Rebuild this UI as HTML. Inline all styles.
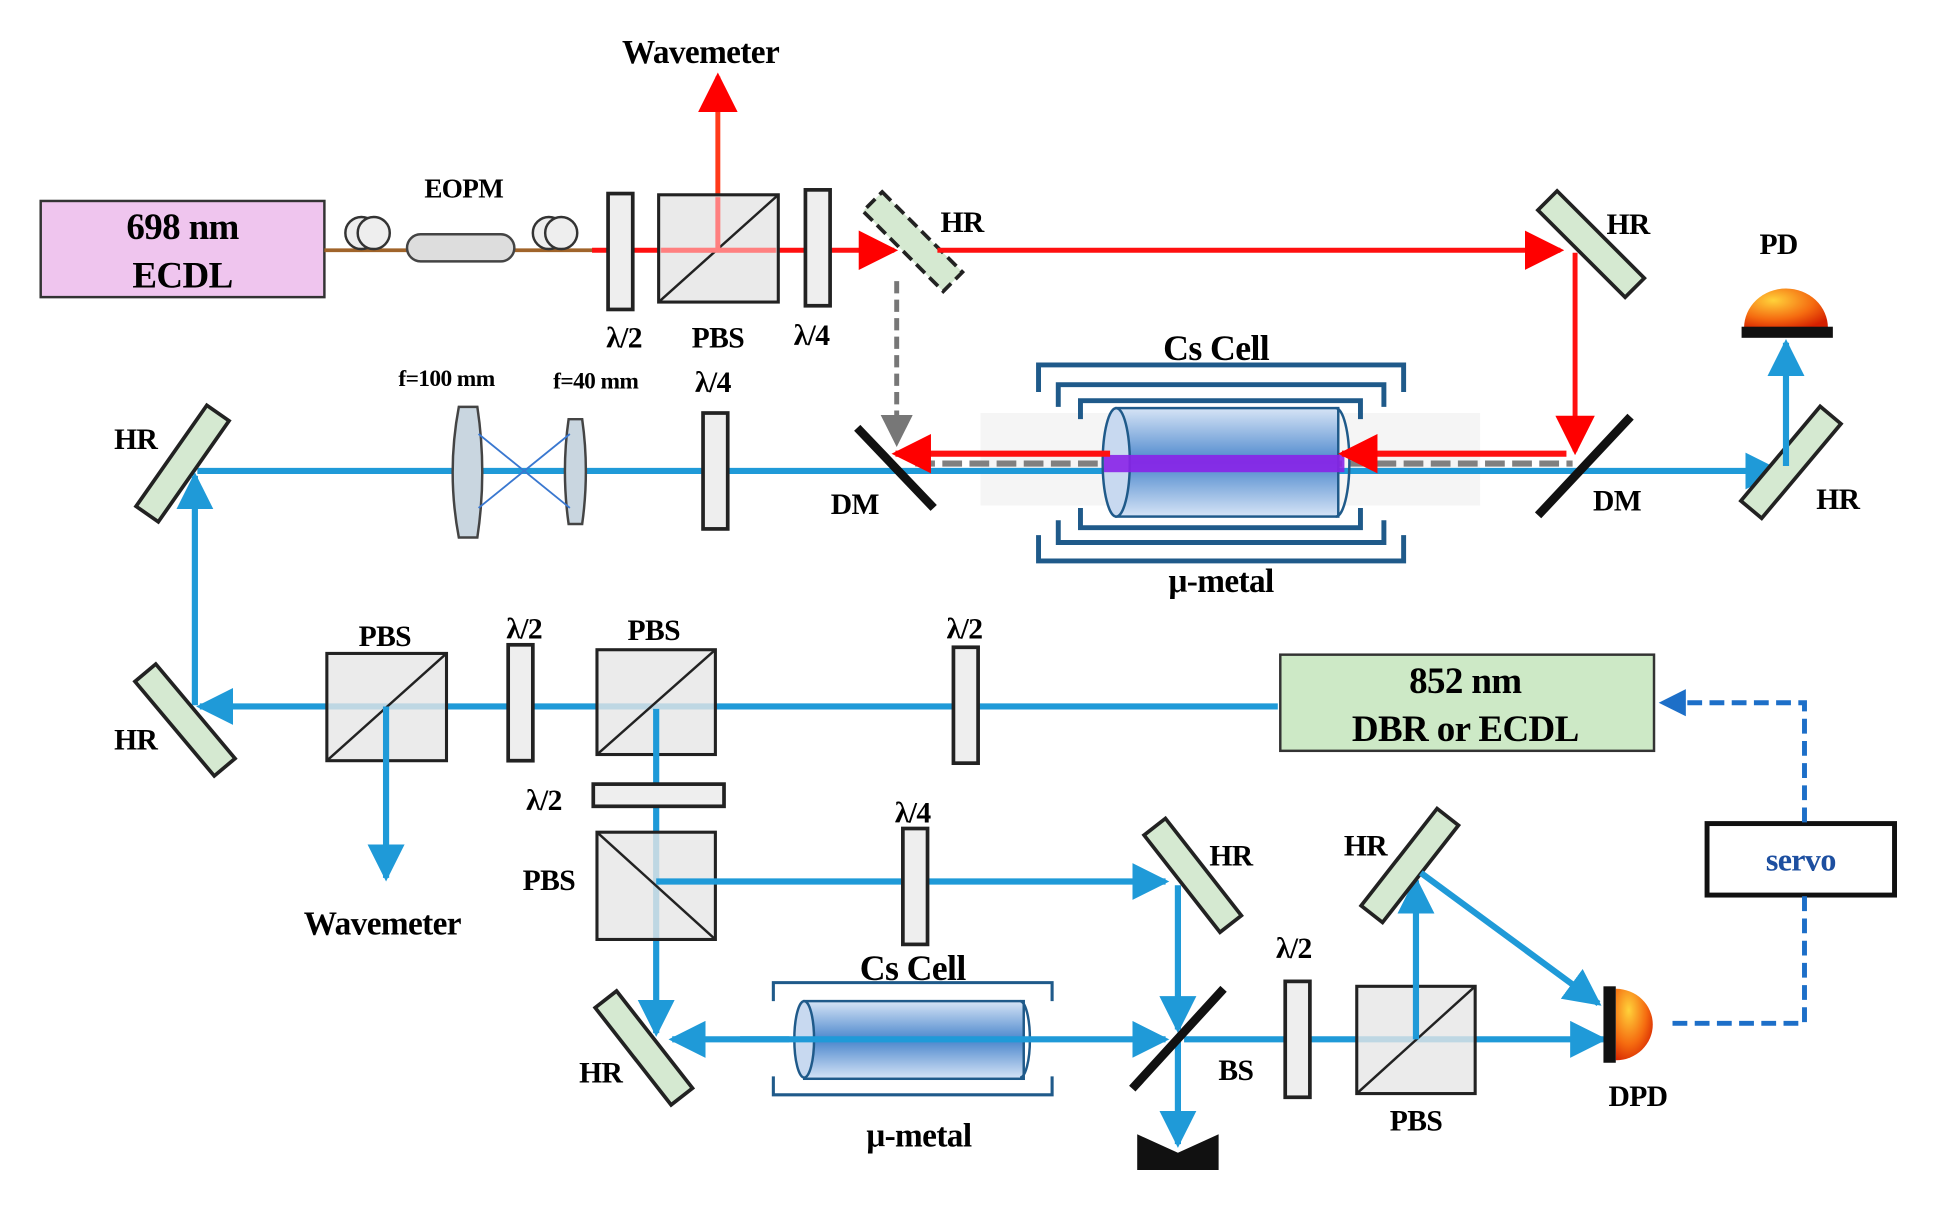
<!DOCTYPE html>
<html><head><meta charset="utf-8"><style>
html,body{margin:0;padding:0;background:#fff;}
svg{display:block;}
text{font-family:"Liberation Serif",serif;font-weight:bold;fill:#000;text-anchor:middle;letter-spacing:-0.5px;}
</style></head><body>
<svg width="1934" height="1207" viewBox="0 0 1568 979" preserveAspectRatio="none" xmlns="http://www.w3.org/2000/svg">
<defs>
<marker id="ab" viewBox="0 0 10 10" markerWidth="30" markerHeight="30" refX="9" refY="5" orient="auto" markerUnits="userSpaceOnUse"><path d="M0,0 L10,5 L0,10z" fill="#1f9ad8"/></marker>
<marker id="arb" viewBox="0 0 10 10" markerWidth="32" markerHeight="32" refX="9" refY="5" orient="auto" markerUnits="userSpaceOnUse"><path d="M0,0 L10,5 L0,10z" fill="#ff0000"/></marker>
<marker id="ag" viewBox="0 0 10 10" markerWidth="26" markerHeight="26" refX="9" refY="5" orient="auto" markerUnits="userSpaceOnUse"><path d="M0,0 L10,5 L0,10z" fill="#777"/></marker>
<marker id="ad" viewBox="0 0 10 10" markerWidth="22" markerHeight="22" refX="9" refY="5" orient="auto" markerUnits="userSpaceOnUse"><path d="M0,0 L10,5 L0,10z" fill="#1d6fc8"/></marker>
<linearGradient id="cyl" x1="0" y1="0" x2="0" y2="1"><stop offset="0" stop-color="#d6e4f6"/><stop offset="0.5" stop-color="#4a86cc"/><stop offset="1" stop-color="#d6e4f6"/></linearGradient>
<radialGradient id="dome" cx="0.35" cy="0.3" r="0.8"><stop offset="0" stop-color="#ffd23a"/><stop offset="0.6" stop-color="#f56b10"/><stop offset="1" stop-color="#d42000"/></radialGradient>
<g id="mir"><rect x="-50" y="-11" width="100" height="22" fill="#d5e9d1" stroke="#222" stroke-width="3"/></g>
<g id="plate"><rect x="-10" y="-47" width="20" height="94" fill="#eee" stroke="#222" stroke-width="3"/></g>
</defs>

<rect x="33" y="163" width="230" height="78" fill="#efc5ee" stroke="#333" stroke-width="2"/>
<text x="148" y="194" font-size="30">698 nm</text>
<text x="148" y="233" font-size="30">ECDL</text>
<line x1="263" y1="203" x2="482" y2="203" stroke="#a0642a" stroke-width="3"/>
<circle cx="293" cy="189" r="13" fill="#eee" stroke="#333" stroke-width="2"/><circle cx="303" cy="189" r="13" fill="#eee" stroke="#333" stroke-width="2"/>
<circle cx="445" cy="189" r="13" fill="#eee" stroke="#333" stroke-width="2"/><circle cx="455" cy="189" r="13" fill="#eee" stroke="#333" stroke-width="2"/>
<rect x="330" y="190" width="87" height="22" rx="11" fill="#ddd" stroke="#444" stroke-width="2"/>
<text x="376" y="160" font-size="22">EOPM</text>

<line x1="480" y1="203" x2="725" y2="203" stroke="#ff1010" stroke-width="4" marker-end="url(#arb)"/>
<line x1="582" y1="203" x2="582" y2="62" stroke="#ff3a1a" stroke-width="4" marker-end="url(#arb)"/>
<text x="568" y="51" font-size="27">Wavemeter</text>
<use href="#plate" x="503" y="204"/>
<rect x="534" y="158" width="97" height="87" fill="#e6e6e6" fill-opacity="0.85" stroke="#222" stroke-width="2.5"/>
<line x1="534" y1="245" x2="631" y2="158" stroke="#222" stroke-width="2"/>
<line x1="582" y1="160" x2="582" y2="203" stroke="#ff8080" stroke-width="4"/>
<line x1="536" y1="203" x2="629" y2="203" stroke="#ff8080" stroke-width="4"/>
<use href="#plate" x="663" y="201"/>
<text x="506" y="282" font-size="24">λ/2</text><text x="582" y="282" font-size="24">PBS</text><text x="658" y="280" font-size="24">λ/4</text>

<g transform="translate(740,196) rotate(45)"><rect x="-46" y="-11" width="92" height="22" fill="#d5e9d1" stroke="#222" stroke-width="3" stroke-dasharray="10,5"/></g>
<text x="780" y="188" font-size="24">HR</text>
<line x1="760" y1="203" x2="1265" y2="203" stroke="#ff1010" stroke-width="4" marker-end="url(#arb)"/>
<use href="#mir" transform="translate(1290,198) rotate(45)"/>
<text x="1320" y="190" font-size="24">HR</text>
<line x1="1277" y1="205" x2="1277" y2="366" stroke="#ff1010" stroke-width="4" marker-end="url(#arb)"/>
<line x1="727" y1="228" x2="727" y2="360" stroke="#777" stroke-width="4" stroke-dasharray="10,5" marker-end="url(#ag)"/>

<rect x="795" y="335" width="405" height="75" fill="#f5f5f5"/>
<g fill="none" stroke="#1f5a8a" stroke-width="4">
<path d="M842,318 V296 H1138 V318"/><path d="M842,434 V455 H1138 V434"/>
<path d="M858,330 V312 H1122 V330"/><path d="M858,422 V440 H1122 V422"/>
<path d="M876,340 V325 H1103 V340"/><path d="M876,412 V428 H1103 V412"/>
</g>
<line x1="160" y1="382" x2="1442" y2="382" stroke="#1f9ad8" stroke-width="5" marker-end="url(#ab)"/>
<line x1="742" y1="376" x2="1275" y2="376" stroke="#808080" stroke-width="5" stroke-dasharray="16,6"/>
<rect x="905" y="331" width="180" height="88" fill="url(#cyl)" stroke="#1f5a8a" stroke-width="2"/>
<ellipse cx="905" cy="375" rx="11" ry="44" fill="#c8d9f0" stroke="#1f5a8a" stroke-width="2"/>
<path d="M1083,331 A11,44 0 0 1 1083,419" fill="none" stroke="#1f5a8a" stroke-width="2"/>
<rect x="895" y="369" width="195" height="14" fill="#8a22e8" opacity="0.9"/>
<line x1="900" y1="368" x2="726" y2="368" stroke="#ff1010" stroke-width="5" marker-end="url(#arb)"/>
<line x1="1270" y1="368" x2="1088" y2="368" stroke="#ff1010" stroke-width="5" marker-end="url(#arb)"/>
<line x1="695" y1="347" x2="757" y2="412" stroke="#111" stroke-width="7"/>
<line x1="1247" y1="418" x2="1322" y2="338" stroke="#111" stroke-width="7"/>
<text x="986" y="292" font-size="29">Cs Cell</text>
<text x="990" y="480" font-size="27">μ-metal</text>
<text x="693" y="417" font-size="24">DM</text><text x="1311" y="414" font-size="24">DM</text>
<use href="#mir" transform="translate(1452,375) rotate(-50)"/>
<text x="1490" y="413" font-size="24">HR</text>
<line x1="1448" y1="378" x2="1448" y2="278" stroke="#1f9ad8" stroke-width="5" marker-end="url(#ab)"/>
<path d="M1414,266 A34,32 0 0 1 1482,266 Z" fill="url(#dome)"/>
<rect x="1412" y="265" width="74" height="9" fill="#111"/>
<text x="1442" y="206" font-size="24">PD</text>

<use href="#mir" transform="translate(148,376) rotate(-55)"/>
<text x="110" y="364" font-size="24">HR</text>
<line x1="158" y1="572" x2="158" y2="386" stroke="#1f9ad8" stroke-width="5" marker-end="url(#ab)"/>
<path d="M372,330 Q362,383 372,436 L387,436 Q395,383 387,330 Z" fill="#c9d6e0" stroke="#444" stroke-width="2"/>
<path d="M461,340 Q455,382 461,425 L472,425 Q478,382 472,340 Z" fill="#c9d6e0" stroke="#444" stroke-width="2"/>
<path d="M388,352 L462,412 M388,412 L462,352" stroke="#3a78d0" stroke-width="1.5"/>
<use href="#plate" x="580" y="382"/>
<text x="362" y="313" font-size="19">f=100 mm</text>
<text x="483" y="315" font-size="19">f=40 mm</text>
<text x="578" y="318" font-size="24">λ/4</text>

<line x1="1036" y1="573" x2="162" y2="573" stroke="#1f9ad8" stroke-width="5" marker-end="url(#ab)"/>
<use href="#mir" transform="translate(150,584) rotate(50)"/>
<text x="110" y="608" font-size="24">HR</text>
<rect x="265" y="530" width="97" height="87" fill="#e6e6e6" fill-opacity="0.8" stroke="#222" stroke-width="2.5"/>
<line x1="265" y1="617" x2="362" y2="530" stroke="#222" stroke-width="2"/>
<line x1="313" y1="573" x2="313" y2="712" stroke="#1f9ad8" stroke-width="5" marker-end="url(#ab)"/>
<text x="310" y="758" font-size="27">Wavemeter</text>
<use href="#plate" transform="translate(422,570)"/>
<rect x="484" y="527" width="96" height="85" fill="#e6e6e6" fill-opacity="0.8" stroke="#222" stroke-width="2.5"/>
<line x1="484" y1="612" x2="580" y2="527" stroke="#222" stroke-width="2"/>
<use href="#plate" transform="translate(783,572)"/>
<text x="312" y="524" font-size="24">PBS</text><text x="425" y="518" font-size="24">λ/2</text><text x="530" y="519" font-size="24">PBS</text><text x="782" y="518" font-size="24">λ/2</text>
<rect x="1038" y="531" width="303" height="78" fill="#cde9c6" stroke="#333" stroke-width="2"/>
<text x="1188" y="562" font-size="30">852 nm</text>
<text x="1188" y="601" font-size="30">DBR or ECDL</text>

<line x1="532" y1="575" x2="532" y2="838" stroke="#1f9ad8" stroke-width="5" marker-end="url(#ab)"/>
<rect x="481" y="636" width="106" height="18" fill="#eee" stroke="#222" stroke-width="3"/>
<text x="441" y="657" font-size="24">λ/2</text>
<rect x="484" y="675" width="96" height="87" fill="#e6e6e6" fill-opacity="0.8" stroke="#222" stroke-width="2.5"/>
<line x1="484" y1="675" x2="580" y2="762" stroke="#222" stroke-width="2"/>
<text x="445" y="722" font-size="24">PBS</text>
<line x1="532" y1="715" x2="945" y2="715" stroke="#1f9ad8" stroke-width="5" marker-end="url(#ab)"/>
<use href="#plate" transform="translate(742,719)"/>
<text x="740" y="667" font-size="24">λ/4</text>
<use href="#mir" transform="translate(967,710) rotate(52)"/>
<text x="998" y="702" font-size="24">HR</text>
<line x1="955" y1="718" x2="955" y2="835" stroke="#1f9ad8" stroke-width="5" marker-end="url(#ab)"/>
<line x1="955" y1="845" x2="955" y2="928" stroke="#1f9ad8" stroke-width="5" marker-end="url(#ab)"/>
<path d="M922,920 L955,935 L988,920 L988,949 L922,949 Z" fill="#111"/>

<path d="M627,812 V797 H853 V812 M627,873 V888 H853 V873" fill="none" stroke="#1f5a8a" stroke-width="2.5"/>
<rect x="652" y="812" width="178" height="63" fill="url(#cyl)" stroke="#1f5a8a" stroke-width="2"/>
<ellipse cx="652" cy="843" rx="8" ry="31" fill="#c8d9f0" stroke="#1f5a8a" stroke-width="2"/>
<path d="M827,812 A8,31 0 0 1 827,874" fill="none" stroke="#1f5a8a" stroke-width="2"/>
<line x1="600" y1="843" x2="945" y2="843" stroke="#1f9ad8" stroke-width="5" marker-end="url(#ab)"/>
<line x1="640" y1="843" x2="545" y2="843" stroke="#1f9ad8" stroke-width="5" marker-end="url(#ab)"/>
<line x1="960" y1="843" x2="1300" y2="843" stroke="#1f9ad8" stroke-width="5" marker-end="url(#ab)"/>
<use href="#mir" transform="translate(522,850) rotate(52)"/>
<text x="487" y="878" font-size="24">HR</text>
<text x="740" y="795" font-size="29">Cs Cell</text>
<text x="745" y="930" font-size="27">μ-metal</text>
<line x1="918" y1="883" x2="992" y2="802" stroke="#111" stroke-width="7"/>
<text x="1002" y="876" font-size="24">BS</text>
<use href="#plate" transform="translate(1052,843)"/>
<text x="1049" y="777" font-size="24">λ/2</text>
<rect x="1100" y="800" width="96" height="87" fill="#e6e6e6" fill-opacity="0.8" stroke="#222" stroke-width="2.5"/>
<line x1="1100" y1="887" x2="1196" y2="800" stroke="#222" stroke-width="2"/>
<text x="1148" y="917" font-size="24">PBS</text>
<line x1="1148" y1="843" x2="1148" y2="714" stroke="#1f9ad8" stroke-width="5" marker-end="url(#ab)"/>
<use href="#mir" transform="translate(1143,702) rotate(-52)"/>
<text x="1107" y="694" font-size="24">HR</text>
<line x1="1152" y1="708" x2="1296" y2="814" stroke="#1f9ad8" stroke-width="5" marker-end="url(#ab)"/>
<path d="M1310,802 A30,29 0 0 1 1310,860 Z" fill="url(#dome)"/>
<rect x="1300" y="800" width="10" height="62" fill="#111"/>
<text x="1328" y="897" font-size="24">DPD</text>

<rect x="1384" y="668" width="152" height="58" fill="#fff" stroke="#111" stroke-width="4"/>
<text x="1460" y="706" font-size="26" style="fill:#1d4fa0">servo</text>
<path d="M1356,830 H1463 V727" fill="none" stroke="#1d6fc8" stroke-width="4" stroke-dasharray="12,6"/>
<path d="M1463,667 V570 H1347" fill="none" stroke="#1d6fc8" stroke-width="4" stroke-dasharray="12,6" marker-end="url(#ad)"/>
</svg>
</body></html>
